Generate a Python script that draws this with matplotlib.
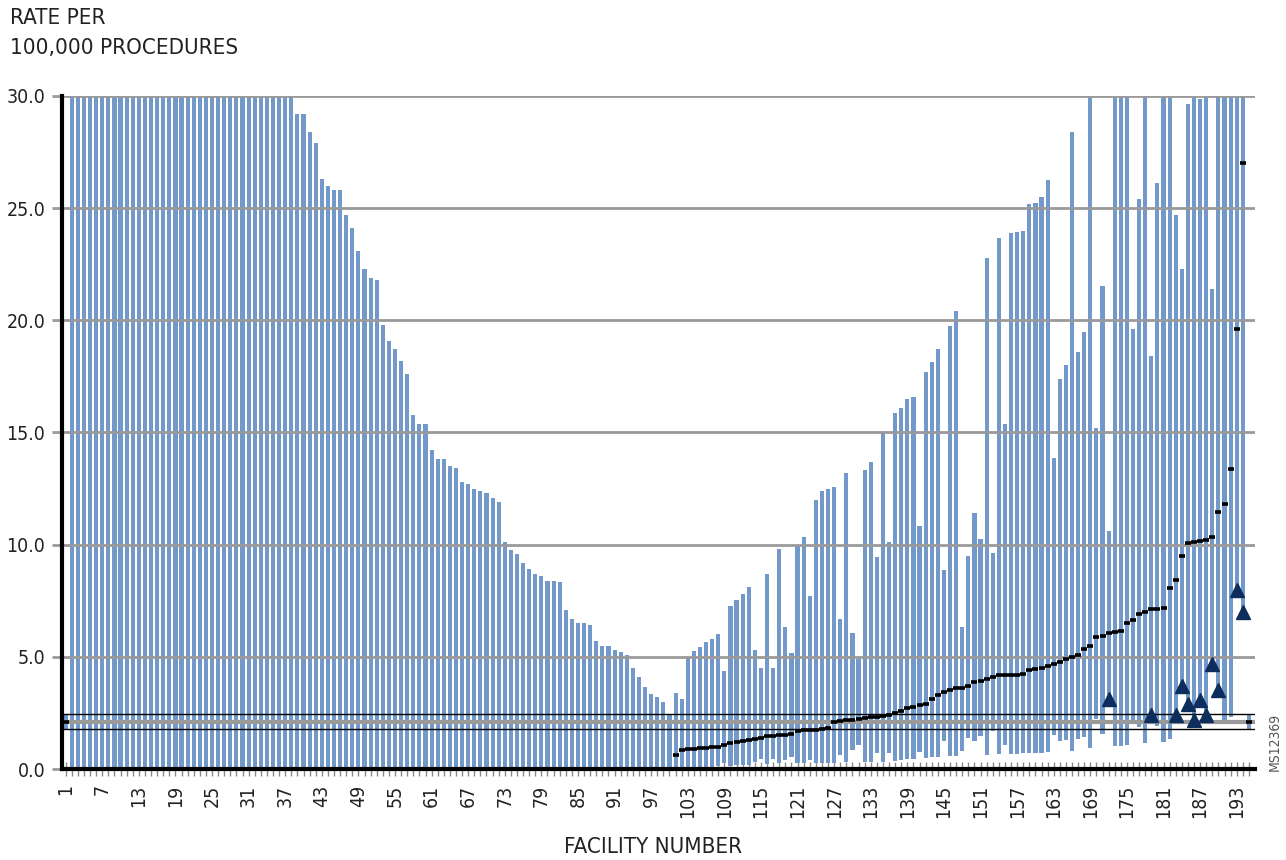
import numpy as np
import matplotlib
matplotlib.use("Agg")
import matplotlib.pyplot as plt
from matplotlib import font_manager

# a condensed face if one is installed, like the original's narrow type
faces = font_manager.fontManager.ttflist
narrow = [f for f in faces if f.name == 'DejaVu Sans' and 'condensed' in str(f.stretch)]
if narrow:
    plt.rcParams['font.family'] = ['DejaVu Sans']
    plt.rcParams['font.stretch'] = 'condensed'
    TICK_FS, TITLE_FS, LABEL_FS = 14, 16, 16
else:
    plt.rcParams['font.family'] = ['DejaVu Sans']
    TICK_FS, TITLE_FS, LABEL_FS = 12, 14, 14

# facility number 1..195
facilities = list(range(1, 196))

# upper confidence limit (capped at 30)
upper = [
    2.45,
    30.0, 30.0, 30.0, 30.0, 30.0, 30.0, 30.0, 30.0, 30.0, 30.0,
    30.0, 30.0, 30.0, 30.0, 30.0, 30.0, 30.0, 30.0, 30.0, 30.0,
    30.0, 30.0, 30.0, 30.0, 30.0, 30.0, 30.0, 30.0, 30.0, 30.0,
    30.0, 30.0, 30.0, 30.0, 30.0, 30.0, 30.0,
    29.2, 29.2, 28.4, 27.9, 26.3, 26.0, 25.8, 25.8, 24.7, 24.1,
    23.1, 22.3, 21.9, 21.8, 19.8, 19.1, 18.7, 18.2, 17.6, 15.8,
    15.4, 15.4, 14.2, 13.8, 13.8, 13.5, 13.4, 12.8, 12.7, 12.5,
    12.4, 12.3, 12.1, 11.9, 10.1, 9.75, 9.6, 9.2, 8.9, 8.7,
    8.6, 8.4, 8.4, 8.35, 7.1, 6.7, 6.5, 6.5, 6.4, 5.7,
    5.5, 5.5, 5.3, 5.2, 5.1, 4.5, 4.1, 3.65, 3.35, 3.2,
    3.0, 2.4,
    3.4, 3.1, 5.0, 5.25, 5.45, 5.65, 5.8, 6.0, 4.35, 7.25,
    7.55, 7.8, 8.1, 5.3, 4.5, 8.7, 4.5, 9.8, 6.35, 5.15,
    10.0, 10.35, 7.7, 12.0, 12.4, 12.5, 12.55, 6.7, 13.2, 6.05,
    4.9, 13.35, 13.7, 9.45, 15.0, 10.1, 15.85, 16.1, 16.5, 16.6,
    10.85, 17.7, 18.15, 18.7, 8.85, 19.75, 20.4, 6.35, 9.5, 11.4,
    10.25, 22.8, 9.65, 23.65, 15.4, 23.9, 23.95, 24.0, 25.2, 25.25,
    25.5, 26.25, 13.85, 17.4, 18.0, 28.4, 18.6, 19.5, 30.0, 15.2,
    21.55, 10.6, 30.0, 30.0, 30.0, 19.6, 25.4, 30.0, 18.4, 26.1,
    30.0, 30.0, 24.7, 22.3, 29.65, 30.0, 29.85, 30.0, 21.4, 30.0,
    30.0, 30.0, 30.0, 30.0, 2.45,
]

# lower confidence limit
lower = [
    1.8,
    0, 0, 0, 0, 0, 0, 0, 0, 0, 0,
    0, 0, 0, 0, 0, 0, 0, 0, 0, 0,
    0, 0, 0, 0, 0, 0, 0, 0, 0, 0,
    0, 0, 0, 0, 0, 0, 0, 0, 0, 0,
    0, 0, 0, 0, 0, 0, 0, 0, 0, 0,
    0, 0, 0, 0, 0, 0, 0, 0, 0, 0,
    0, 0, 0, 0, 0, 0, 0, 0, 0, 0,
    0, 0, 0, 0, 0, 0, 0, 0, 0, 0,
    0, 0, 0, 0, 0, 0, 0, 0, 0, 0,
    0, 0, 0, 0, 0, 0, 0, 0, 0,
    0.1, 0.1, 0.07, 0.1, 0.1, 0.1, 0.1, 0.13, 0.28, 0.15,
    0.16, 0.18, 0.18, 0.33, 0.43, 0.22, 0.43, 0.25, 0.4, 0.55,
    0.28, 0.28, 0.4, 0.25, 0.25, 0.28, 0.28, 0.62, 0.3, 0.85,
    1.06, 0.3, 0.3, 0.7, 0.31, 0.7, 0.37, 0.4, 0.43, 0.43,
    0.76, 0.48, 0.52, 0.52, 1.27, 0.58, 0.58, 0.8, 1.37, 1.25,
    1.47, 0.64, 1.7, 0.67, 1.09, 0.67, 0.67, 0.7, 0.71, 0.73,
    0.73, 0.76, 1.52, 1.27, 1.3, 0.82, 1.32, 1.41, 0.92, 2.25,
    1.55, 3.1, 1.03, 1.03, 1.09, 2.2, 1.86, 1.18, 2.4, 1.92,
    1.2, 1.35, 2.4, 3.72, 2.9, 2.2, 3.08, 2.4, 4.7, 3.5,
    2.05, 2.34, 8.0, 7.0, 1.8,
]

# observed rate (point estimate)
rate = [
    2.1,
    0, 0, 0, 0, 0, 0, 0, 0, 0, 0,
    0, 0, 0, 0, 0, 0, 0, 0, 0, 0,
    0, 0, 0, 0, 0, 0, 0, 0, 0, 0,
    0, 0, 0, 0, 0, 0, 0, 0, 0, 0,
    0, 0, 0, 0, 0, 0, 0, 0, 0, 0,
    0, 0, 0, 0, 0, 0, 0, 0, 0, 0,
    0, 0, 0, 0, 0, 0, 0, 0, 0, 0,
    0, 0, 0, 0, 0, 0, 0, 0, 0, 0,
    0, 0, 0, 0, 0, 0, 0, 0, 0, 0,
    0, 0, 0, 0, 0, 0, 0, 0, 0,
    0.62, 0.85, 0.88, 0.9, 0.93, 0.95, 0.97, 1.0, 1.05, 1.15,
    1.22, 1.27, 1.3, 1.35, 1.4, 1.45, 1.48, 1.5, 1.52, 1.55,
    1.7, 1.72, 1.73, 1.75, 1.78, 1.82, 2.08, 2.12, 2.17, 2.2,
    2.24, 2.27, 2.3, 2.32, 2.36, 2.4, 2.5, 2.58, 2.7, 2.78,
    2.84, 2.92, 3.1, 3.29, 3.44, 3.5, 3.59, 3.6, 3.68, 3.87,
    3.93, 4.0, 4.11, 4.17, 4.2, 4.21, 4.21, 4.23, 4.42, 4.48,
    4.51, 4.61, 4.69, 4.79, 4.91, 5.01, 5.09, 5.34, 5.5, 5.89,
    5.91, 6.07, 6.12, 6.16, 6.5, 6.64, 6.93, 6.98, 7.13, 7.14,
    7.16, 8.08, 8.41, 9.51, 10.07, 10.12, 10.15, 10.19, 10.34, 11.46,
    11.82, 13.38, 19.6, 27.0, 2.1,
]

# facilities flagged with a triangle (drawn at their lower limit)
flagged = [172, 179, 183, 184, 185, 186, 187, 188, 189, 190, 193, 194]

# overall rate and its limits
overall_rate = 2.1
overall_low = 1.8
overall_high = 2.45

y_ticks = [0, 5, 10, 15, 20, 25, 30]
x_ticks = list(range(1, 194, 6))

BAR_COLOR = '#7299c9'
TRI_COLOR = '#0d2e5c'
GRID_COLOR = '#9a9a9a'
TEXT_COLOR = '#222222'

x = np.array(facilities)
lo = np.array(lower)
hi = np.array(upper)

fig = plt.figure(figsize=(12.86, 8.6), dpi=100)
ax = fig.add_axes([0.0482, 0.1058, 0.9277, 0.7826])

ax.bar(x, hi - lo, bottom=lo, width=0.68, color=BAR_COLOR, zorder=2)

# gridlines over the bars
for v in y_ticks[1:]:
    ax.axhline(v, color=GRID_COLOR, lw=2, zorder=3)

# overall reference lines
ax.axhline(overall_rate, color=GRID_COLOR, lw=3, zorder=3)
ax.axhline(overall_high, color='black', lw=1, zorder=3)
ax.axhline(overall_low, color='black', lw=1, zorder=3)

ax.plot(x, rate, linestyle='none', marker='_', markersize=4.5,
        markeredgewidth=2.6, color='black', zorder=5, clip_on=False)

fx = np.array(flagged)
ax.plot(fx, lo[fx - 1], linestyle='none', marker='^', markersize=9.5,
        color=TRI_COLOR, zorder=6)

ax.set_xlim(0.4, 196.0)
ax.set_ylim(0, 30)

ax.set_yticks(y_ticks)
ax.set_yticklabels([f'{v:.1f}' for v in y_ticks], fontsize=TICK_FS, color=TEXT_COLOR)
ax.tick_params(axis='y', length=7, width=2, color=GRID_COLOR, pad=5)

ax.set_xticks(x_ticks)
ax.set_xticklabels([str(v) for v in x_ticks], rotation=90, fontsize=TICK_FS,
                   color=TEXT_COLOR)
ax.set_xticks(facilities, minor=True)
ax.tick_params(axis='x', which='both', direction='inout', length=10,
               width=1, color='#8a8a8a', pad=6)

for s in ['top', 'right']:
    ax.spines[s].set_visible(False)
ax.spines['left'].set_linewidth(3)
ax.spines['bottom'].set_linewidth(3)
ax.spines['left'].set_zorder(7)
ax.spines['bottom'].set_zorder(7)

fig.text(0.008, 0.991, 'RATE PER', ha='left', va='top',
         fontsize=TITLE_FS, color=TEXT_COLOR)
fig.text(0.008, 0.956, '100,000 PROCEDURES', ha='left', va='top',
         fontsize=TITLE_FS, color=TEXT_COLOR)
fig.text(0.508, 0.004, 'FACILITY NUMBER', ha='center', va='bottom',
         fontsize=LABEL_FS, color=TEXT_COLOR)
fig.text(0.9915, 0.137, 'MS12369', rotation=90, ha='center', va='center',
         fontsize=10, color='#555555')

fig.savefig('out.png', dpi=100)
